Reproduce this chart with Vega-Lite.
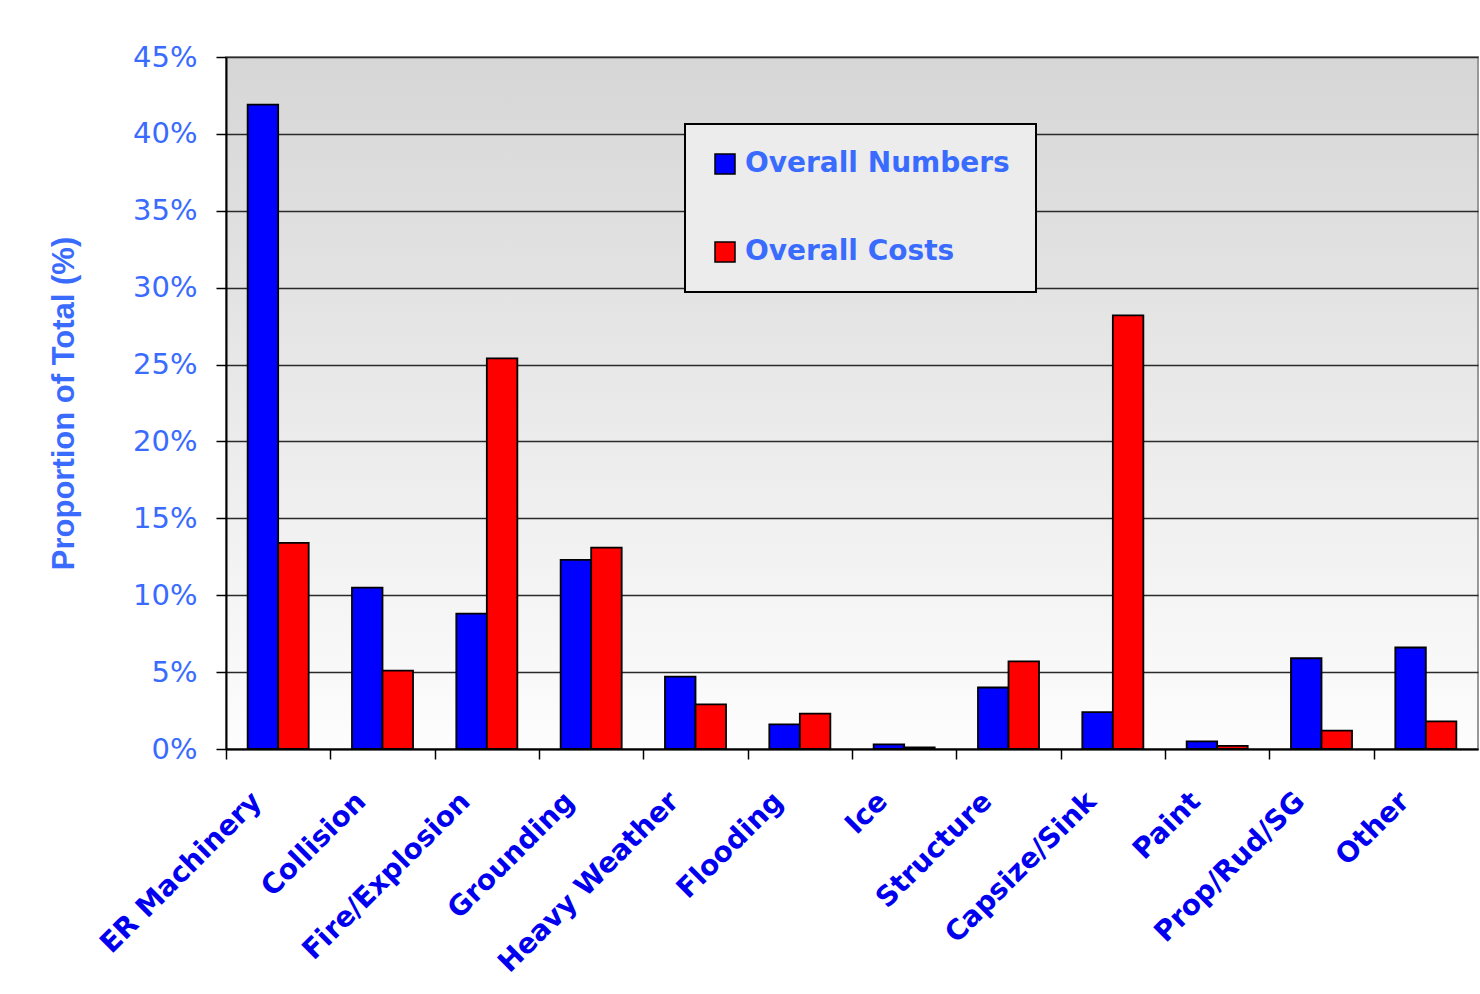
{
  "$schema": "https://vega.github.io/schema/vega-lite/v6.json",
  "width": 1252,
  "height": 692,
  "autosize": {"type": "none"},
  "padding": {"left": 226, "top": 57, "right": 2, "bottom": 245},
  "background": "white",
  "title": {
    "text": "Treat with Caution!",
    "anchor": "start",
    "frame": "group",
    "font": "Liberation Serif",
    "fontWeight": "bold",
    "fontSize": 48,
    "color": "#ff3300",
    "baseline": "alphabetic",
    "dx": -302,
    "dy": -33,
    "offset": -14
  },
  "data": {
    "values": [
      {"category": "ER Machinery", "series": "Overall Numbers", "value": 41.9},
      {"category": "ER Machinery", "series": "Overall Costs", "value": 13.4},
      {"category": "Collision", "series": "Overall Numbers", "value": 10.5},
      {"category": "Collision", "series": "Overall Costs", "value": 5.1},
      {"category": "Fire/Explosion", "series": "Overall Numbers", "value": 8.8},
      {"category": "Fire/Explosion", "series": "Overall Costs", "value": 25.4},
      {"category": "Grounding", "series": "Overall Numbers", "value": 12.3},
      {"category": "Grounding", "series": "Overall Costs", "value": 13.1},
      {"category": "Heavy Weather", "series": "Overall Numbers", "value": 4.7},
      {"category": "Heavy Weather", "series": "Overall Costs", "value": 2.9},
      {"category": "Flooding", "series": "Overall Numbers", "value": 1.6},
      {"category": "Flooding", "series": "Overall Costs", "value": 2.3},
      {"category": "Ice", "series": "Overall Numbers", "value": 0.3},
      {"category": "Ice", "series": "Overall Costs", "value": 0.1},
      {"category": "Structure", "series": "Overall Numbers", "value": 4.0},
      {"category": "Structure", "series": "Overall Costs", "value": 5.7},
      {"category": "Capsize/Sink", "series": "Overall Numbers", "value": 2.4},
      {"category": "Capsize/Sink", "series": "Overall Costs", "value": 28.2},
      {"category": "Paint", "series": "Overall Numbers", "value": 0.5},
      {"category": "Paint", "series": "Overall Costs", "value": 0.2},
      {"category": "Prop/Rud/SG", "series": "Overall Numbers", "value": 5.9},
      {"category": "Prop/Rud/SG", "series": "Overall Costs", "value": 1.2},
      {"category": "Other", "series": "Overall Numbers", "value": 6.6},
      {"category": "Other", "series": "Overall Costs", "value": 1.8}
    ]
  },
  "mark": {"type": "bar", "stroke": "black", "strokeWidth": 1.8},
  "encoding": {
    "x": {
      "field": "category",
      "type": "nominal",
      "sort": null,
      "scale": {"paddingInner": 0.415, "paddingOuter": 0.2075},
      "axis": {
        "title": null,
        "labelAngle": -45,
        "labelFont": "DejaVu Sans",
        "labelFontWeight": "bold",
        "labelFontSize": 28,
        "labelColor": "#0000ee",
        "labelPadding": 28,
        "labelOffset": 21,
        "tickOffset": -52.2,
        "tickSize": 10,
        "tickColor": "black",
        "tickWidth": 1.5,
        "domainColor": "black",
        "domainWidth": 2,
        "labelLimit": 400
      }
    },
    "xOffset": {"field": "series", "type": "nominal", "sort": ["Overall Numbers", "Overall Costs"]},
    "y": {
      "field": "value",
      "type": "quantitative",
      "scale": {"domain": [0, 45], "nice": false},
      "axis": {
        "title": "Proportion of Total (%)",
        "titleFont": "Liberation Sans",
        "titleFontWeight": "bold",
        "titleFontSize": 31,
        "titleColor": "#3a6bff",
        "titlePadding": 52,
        "values": [0, 5, 10, 15, 20, 25, 30, 35, 40, 45],
        "labelExpr": "datum.value + '%'",
        "labelFont": "DejaVu Sans",
        "labelFontSize": 29,
        "labelColor": "#3a6bff",
        "labelPadding": 19,
        "tickSize": 10,
        "tickColor": "black",
        "tickWidth": 1.5,
        "domainColor": "black",
        "domainWidth": 2,
        "grid": true,
        "gridColor": "#2a2a2a",
        "gridWidth": 1.5
      }
    },
    "color": {
      "field": "series",
      "type": "nominal",
      "scale": {"domain": ["Overall Numbers", "Overall Costs"], "range": ["#0000ff", "#ff0000"]},
      "legend": {
        "title": null,
        "orient": "none",
        "legendX": 459,
        "legendY": 67,
        "fillColor": "#ececec",
        "strokeColor": "black",
        "padding": 26,
        "rowPadding": 60,
        "symbolType": "square",
        "symbolSize": 400,
        "symbolStrokeColor": "black",
        "symbolStrokeWidth": 1.5,
        "symbolOpacity": 1,
        "labelFont": "DejaVu Sans",
        "labelFontWeight": "bold",
        "labelFontSize": 28,
        "labelColor": "#3a6bff",
        "labelOffset": 6,
        "labelLimit": 400
      }
    }
  },
  "config": {
    "view": {
      "fill": {"gradient": "linear", "x1": 0, "y1": 0, "x2": 0, "y2": 1, "stops": [{"offset": 0, "color": "#d6d6d6"}, {"offset": 1, "color": "#fdfdfd"}]},
      "stroke": "#999999",
      "strokeWidth": 2
    },
    "legend": {"strokeWidth": 2}
  }
}
